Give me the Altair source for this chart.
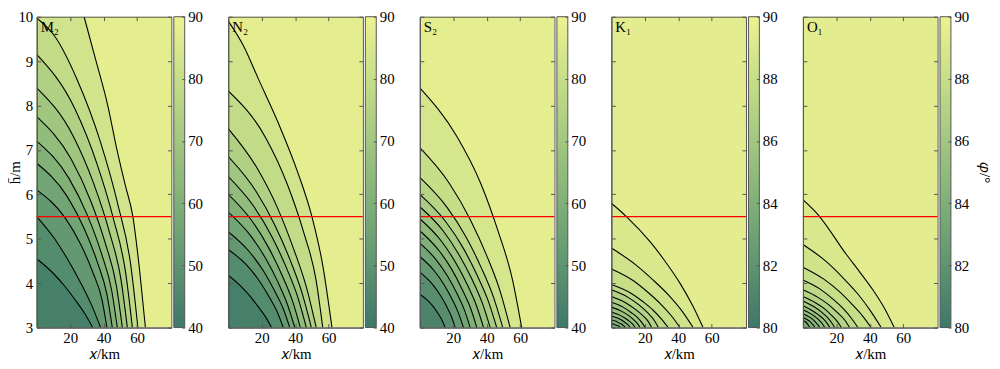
import altair as alt
import pandas as pd

# ---------------- data ----------------
PANEL_NAMES = ["M₂", "N₂", "S₂", "K₁", "O₁"]
CBAR_RANGES = [[40, 90], [40, 90], [40, 90], [80, 90], [80, 90]]
CBAR_TICKS = [[40, 50, 60, 70, 80, 90]] * 3 + [[80, 82, 84, 86, 88, 90]] * 2
X_TICKS = [20, 40, 60]
H_TICKS = [3, 4, 5, 6, 7, 8, 9, 10]
X_DOMAIN = [0, 80.5]
H_DOMAIN = [3, 10]
RED_H = 5.5

# contour curves (outermost first): x in km, h in m
M2_X = [
    [0, 28.3, 35.5, 42.5, 48, 53, 57.5, 61.5, 65],
    [0, 11, 24.2, 38.1, 48.4, 56.3, 60.5],
    [0, 22.9, 36.0, 45.8, 53.2, 57.2],
    [0, 21.7, 34.1, 43.4, 50.4, 54.2],
    [0, 20.5, 32.3, 41.0, 47.6, 51.2],
    [0, 19.3, 30.4, 38.6, 44.8, 48.2],
    [0, 18.1, 28.5, 36.2, 42.0, 45.2],
    [0, 16.8, 26.5, 33.6, 39.1, 42.0],
    [0, 10.7, 19.1, 26.4, 32.9, 38.2],
    [0, 9.4, 16.8, 23.1, 28.8, 33.5],
]
M2_H = [
    [10, 10, 9, 8, 7, 6.2, 5.5, 4.3, 3],
    [9.97, 9.55, 8.58, 7.18, 5.79, 4.39, 3],
    [9.15, 7.92, 6.69, 5.46, 4.23, 3],
    [8.4, 7.32, 6.24, 5.16, 4.08, 3],
    [7.75, 6.8, 5.85, 4.9, 3.95, 3],
    [7.2, 6.36, 5.52, 4.68, 3.84, 3],
    [6.7, 5.96, 5.22, 4.48, 3.74, 3],
    [6.1, 5.48, 4.86, 4.24, 3.62, 3],
    [5.5, 5.0, 4.5, 4.0, 3.5, 3],
    [4.55, 4.24, 3.93, 3.62, 3.31, 3],
]
M2_BANDS = [88, 83, 78.5, 74, 69.5, 65, 60.5, 56, 51.5, 47, 42.5]

N2_X = [
    [0, 9, 18, 30, 41.5, 50, 56.5, 62],
    [0, 22.6, 35.6, 45.2, 52.5, 56.5],
    [0, 17.4, 29.5, 38.9, 46.8, 52.6],
    [0, 16.4, 27.8, 36.8, 44.2, 49.7],
    [0, 15.4, 26.2, 34.6, 41.6, 46.7],
    [0, 14.2, 24.1, 31.9, 38.4, 43.1],
    [0, 13.1, 22.3, 29.5, 35.4, 39.8],
    [0, 12.1, 20.6, 27.2, 32.8, 36.8],
    [0, 10.9, 18.4, 24.3, 29.3, 32.9],
    [0, 7.3, 13.0, 17.9, 22.3, 25.9],
]
N2_H = [
    [9.9, 9.35, 8.6, 7.6, 6.5, 5.5, 4.4, 3],
    [8.33, 7.26, 6.20, 5.13, 4.07, 3],
    [7.48, 6.58, 5.69, 4.79, 3.90, 3],
    [6.85, 6.08, 5.31, 4.54, 3.77, 3],
    [6.4, 5.72, 5.04, 4.36, 3.68, 3],
    [6.0, 5.4, 4.8, 4.2, 3.6, 3],
    [5.6, 5.08, 4.56, 4.04, 3.52, 3],
    [5.16, 4.73, 4.30, 3.86, 3.43, 3],
    [4.76, 4.41, 4.06, 3.70, 3.35, 3],
    [4.18, 3.94, 3.71, 3.47, 3.24, 3],
]
N2_BANDS = [88, 83, 78.5, 74, 69.5, 65, 60.5, 56, 51.5, 47, 42.5]

S2_X = [
    [0, 21.9, 36.5, 46.9, 55.4, 60.9],
    [0, 17.8, 30.2, 40.0, 48.1, 54.0],
    [0, 16.4, 27.8, 36.7, 44.1, 49.6],
    [0, 15.2, 25.8, 34.0, 40.9, 46.0],
    [0, 13.9, 23.6, 31.2, 37.5, 42.1],
    [0, 12.6, 21.3, 28.2, 33.9, 38.1],
    [0, 11.3, 19.1, 25.2, 30.3, 34.1],
    [0, 9.9, 16.9, 22.3, 26.8, 30.1],
    [0, 8.6, 14.6, 19.3, 23.2, 26.1],
    [0, 7.0, 11.9, 15.7, 18.9, 21.2],
    [0, 5.0, 8.5, 11.2, 13.5, 15.2],
]
S2_H = [
    [8.4, 7.32, 6.24, 5.16, 4.08, 3],
    [7.05, 6.24, 5.43, 4.62, 3.81, 3],
    [6.38, 5.70, 5.03, 4.35, 3.68, 3],
    [6.0, 5.4, 4.8, 4.2, 3.6, 3],
    [5.72, 5.18, 4.63, 4.09, 3.54, 3],
    [5.45, 4.96, 4.47, 3.98, 3.49, 3],
    [5.18, 4.74, 4.31, 3.87, 3.44, 3],
    [4.9, 4.52, 4.14, 3.76, 3.38, 3],
    [4.6, 4.28, 3.96, 3.64, 3.32, 3],
    [4.25, 4.0, 3.75, 3.5, 3.25, 3],
    [3.75, 3.6, 3.45, 3.3, 3.15, 3],
]
S2_BANDS = [88, 84, 80, 76, 72, 68, 64, 60, 56, 52, 48, 44]

K1_X = [
    [0, 9, 23, 32, 41, 48.5, 54.8],
    [0, 14, 25, 34.5, 42.5, 48.9],
    [0, 13, 22, 29.5, 36, 41],
    [0, 11.5, 19, 25, 30, 34],
    [0, 10, 16.5, 21.5, 25.5, 28.1],
    [0, 8.5, 14, 18.5, 22, 24.1],
    [0, 7, 11.8, 15.5, 18.3, 20.2],
    [0, 6, 10, 13.2, 15.6, 17.2],
    [0, 5, 8.3, 10.9, 12.9, 14.2],
    [0, 4, 6.6, 8.7, 10.3, 11.3],
    [0, 2.9, 4.8, 6.4, 7.6, 8.3],
    [0, 1.9, 3.1, 4.1, 4.8, 5.3],
]
K1_H = [
    [5.8, 5.5, 4.94, 4.5, 4.0, 3.5, 3],
    [4.79, 4.43, 4.07, 3.72, 3.36, 3],
    [4.32, 4.06, 3.79, 3.53, 3.26, 3],
    [3.97, 3.78, 3.58, 3.39, 3.19, 3],
    [3.85, 3.68, 3.51, 3.34, 3.17, 3],
    [3.70, 3.56, 3.42, 3.28, 3.14, 3],
    [3.57, 3.46, 3.34, 3.23, 3.11, 3],
    [3.46, 3.37, 3.28, 3.18, 3.09, 3],
    [3.35, 3.28, 3.21, 3.14, 3.07, 3],
    [3.26, 3.21, 3.16, 3.10, 3.05, 3],
    [3.17, 3.14, 3.10, 3.07, 3.03, 3],
    [3.09, 3.07, 3.05, 3.04, 3.02, 3],
]
K1_BANDS = [89.5, 89, 88.5, 88, 87.5, 87, 86.5, 86, 85.5, 85, 84.5, 84, 83.5]

O1_X = [
    [0, 9.1, 25.9, 34, 41.8, 48.5, 54.6],
    [0, 13.5, 24, 33, 40.5, 46.8],
    [0, 12.5, 21.5, 29, 35.5, 40.8],
    [0, 10.5, 18, 24, 29, 32.9],
    [0, 9, 15.5, 20.5, 25, 27.9],
    [0, 7.5, 13, 17, 20.5, 23],
    [0, 6.2, 10.8, 14.3, 17, 19],
    [0, 5.2, 9.1, 12.1, 14.4, 16.1],
    [0, 4.3, 7.4, 9.8, 11.7, 13.1],
    [0, 3.3, 5.7, 7.6, 9.0, 10.1],
    [0, 2.4, 4.1, 5.4, 6.4, 7.2],
    [0, 1.4, 2.4, 3.1, 3.7, 4.2],
]
O1_H = [
    [5.88, 5.54, 4.65, 4.25, 3.85, 3.45, 3],
    [4.87, 4.50, 4.12, 3.75, 3.37, 3],
    [4.36, 4.09, 3.82, 3.54, 3.27, 3],
    [4.07, 3.86, 3.64, 3.43, 3.21, 3],
    [3.85, 3.68, 3.51, 3.34, 3.17, 3],
    [3.70, 3.56, 3.42, 3.28, 3.14, 3],
    [3.60, 3.48, 3.36, 3.24, 3.12, 3],
    [3.49, 3.39, 3.29, 3.20, 3.10, 3],
    [3.40, 3.32, 3.24, 3.16, 3.08, 3],
    [3.31, 3.25, 3.19, 3.12, 3.06, 3],
    [3.23, 3.18, 3.14, 3.09, 3.05, 3],
    [3.16, 3.13, 3.10, 3.06, 3.03, 3],
]
O1_BANDS = [89.5, 89, 88.5, 88, 87.5, 87, 86.5, 86, 85.5, 85, 84.5, 84, 83.5]

PANELS = [
    (M2_X, M2_H, M2_BANDS),
    (N2_X, N2_H, N2_BANDS),
    (S2_X, S2_H, S2_BANDS),
    (K1_X, K1_H, K1_BANDS),
    (O1_X, O1_H, O1_BANDS),
]

# ---------------- styling ----------------
STOP_POS = [0, 0.2, 0.4, 0.6, 0.8, 1.0]
STOP_COLORS = ["#3e7868", "#5e9470", "#80b078", "#a2c780", "#c6de88", "#edf291"]
PW, PH, CBW = 136, 314, 11
FONT = "Liberation Serif"
FRAME = "#555555"
FS = 15


def curve_frame(xs, hs, bands):
    rows = []
    for c, (cx, ch) in enumerate(zip(xs, hs)):
        for x, h in zip(cx, ch):
            rows.append({"curve": c, "x": x, "h": h, "band": bands[c + 1]})
    return pd.DataFrame(rows)


def panel(i, xs, hs, bands):
    df = curve_frame(xs, hs, bands)
    lo, hi = CBAR_RANGES[i]
    cscale = alt.Scale(domain=[lo + p * (hi - lo) for p in STOP_POS],
                       range=STOP_COLORS, interpolate="rgb")
    xsc = alt.Scale(domain=X_DOMAIN, nice=False, zero=False)
    ysc = alt.Scale(domain=H_DOMAIN, nice=False, zero=False)
    first = i == 0

    ax_x_lab = alt.Axis(orient="bottom", values=X_TICKS, title="𝑥/km", ticks=False,
                        domain=True, domainColor=FRAME, grid=False,
                        labelPadding=3, titlePadding=1, zindex=3)
    ax_y_lab = alt.Axis(orient="left", values=H_TICKS, title="h̄/m" if first else None,
                        labels=first, ticks=False, domain=True, domainColor=FRAME,
                        grid=False, labelPadding=4, titlePadding=-5, zindex=3)
    tick_kw = dict(labels=False, title=None, tickSize=4, tickColor=FRAME,
                   domain=True, domainColor=FRAME, grid=False, zindex=3)
    ax_x_in_bottom = alt.Axis(orient="top", offset=-PH, values=X_TICKS, **tick_kw)
    ax_x_in_top = alt.Axis(orient="bottom", offset=-PH, values=X_TICKS, **tick_kw)
    ax_y_in_left = alt.Axis(orient="right", offset=-PW, values=H_TICKS, **tick_kw)
    ax_y_in_right = alt.Axis(orient="left", offset=-PW, values=H_TICKS, **tick_kw)
    axis_sets = [(ax_x_lab, ax_y_lab), (ax_x_in_bottom, ax_y_in_left),
                 (ax_x_in_top, ax_y_in_right)]

    bg = alt.Chart(pd.DataFrame({"band": [bands[0]]})).mark_rect().encode(
        x=alt.value(0), x2=alt.value(PW), y=alt.value(0), y2=alt.value(PH),
        color=alt.Color("band:Q", scale=cscale, legend=None))
    layers = [bg]
    for c in range(len(xs)):
        if c < 3:
            ax, ay = axis_sets[c]
        else:
            ax, ay = None, None
        area = alt.Chart(df).transform_filter(alt.datum.curve == c).mark_area(
            interpolate="monotone", clip=True).encode(
            x=alt.X("x:Q", scale=xsc, axis=ax),
            y=alt.Y("h:Q", scale=ysc, axis=ay, stack=None),
            y2=alt.datum(H_DOMAIN[0]),
            color=alt.Color("band:Q", scale=cscale, legend=None))
        layers.append(area)

    lines = alt.Chart(df).transform_filter(
        "!(datum.x == 0 && datum.h >= 10)").mark_line(
        color="black", strokeWidth=1.1, interpolate="monotone", clip=True).encode(
        x=alt.X("x:Q", scale=xsc, axis=None),
        y=alt.Y("h:Q", scale=ysc, axis=None),
        detail="curve:N")
    rule = alt.Chart(pd.DataFrame({"h": [RED_H]})).mark_rule(
        color="#ff0000", strokeWidth=1.2).encode(
        y=alt.Y("h:Q", scale=ysc, axis=None))
    label = alt.Chart(pd.DataFrame({"name": [PANEL_NAMES[i]]})).mark_text(
        align="left", baseline="top", font=FONT, fontSize=FS, color="black").encode(
        x=alt.value(4), y=alt.value(3), text="name:N")
    layers += [lines, rule, label]
    return alt.layer(*layers).resolve_axis(x="independent", y="independent").properties(
        width=PW, height=PH)


def colorbar(i):
    lo, hi = CBAR_RANGES[i]
    df = pd.DataFrame({"lo": [lo], "hi": [hi], "a": [0], "b": [1]})
    ysc = alt.Scale(domain=[lo, hi], nice=False, zero=False)
    xsc = alt.Scale(domain=[0, 1], nice=False, zero=False)
    grad = alt.Gradient(gradient="linear",
                        stops=[alt.GradientStop(color=c, offset=p)
                               for p, c in zip(STOP_POS, STOP_COLORS)],
                        x1=0, x2=0, y1=1, y2=0)
    lab_axis = alt.Axis(orient="right", values=CBAR_TICKS[i],
                        title="𝜑/°" if i == 4 else None, ticks=False, domain=False,
                        grid=False, labelPadding=3, titlePadding=8, zindex=3)
    bar = alt.Chart(df).mark_rect(color=grad, stroke=FRAME, strokeWidth=1).encode(
        x=alt.X("a:Q", scale=xsc, axis=None), x2="b:Q",
        y=alt.Y("lo:Q", scale=ysc, axis=lab_axis), y2="hi:Q")
    tick_axis = alt.Axis(orient="left", offset=-CBW, values=CBAR_TICKS[i], labels=False,
                         title=None, tickSize=3, tickColor=FRAME, domain=False,
                         grid=False, zindex=3)
    ticks = alt.Chart(df).mark_rect(opacity=0).encode(
        x=alt.X("a:Q", scale=xsc, axis=None), x2="b:Q",
        y=alt.Y("lo:Q", scale=ysc, axis=tick_axis), y2="hi:Q")
    return alt.layer(bar, ticks).resolve_axis(y="independent").properties(
        width=CBW, height=PH)


groups = []
for i, (xs, hs, bands) in enumerate(PANELS):
    g = alt.hconcat(panel(i, xs, hs, bands), colorbar(i), spacing=2.5,
                    bounds="flush").resolve_scale(color="independent")
    groups.append(g)

chart = alt.hconcat(*groups, spacing=24.5).resolve_scale(
    color="independent").properties(
    padding={"left": 0, "top": 0, "right": 0, "bottom": 0}
).configure(font=FONT, background="white").configure_view(stroke=None).configure_axis(
    labelFont=FONT, titleFont=FONT, labelFontSize=FS, titleFontSize=FS,
    labelColor="black", titleColor="black", titleFontWeight="normal")

chart.save("out.html", embed_options={"renderer": "svg", "actions": False})
